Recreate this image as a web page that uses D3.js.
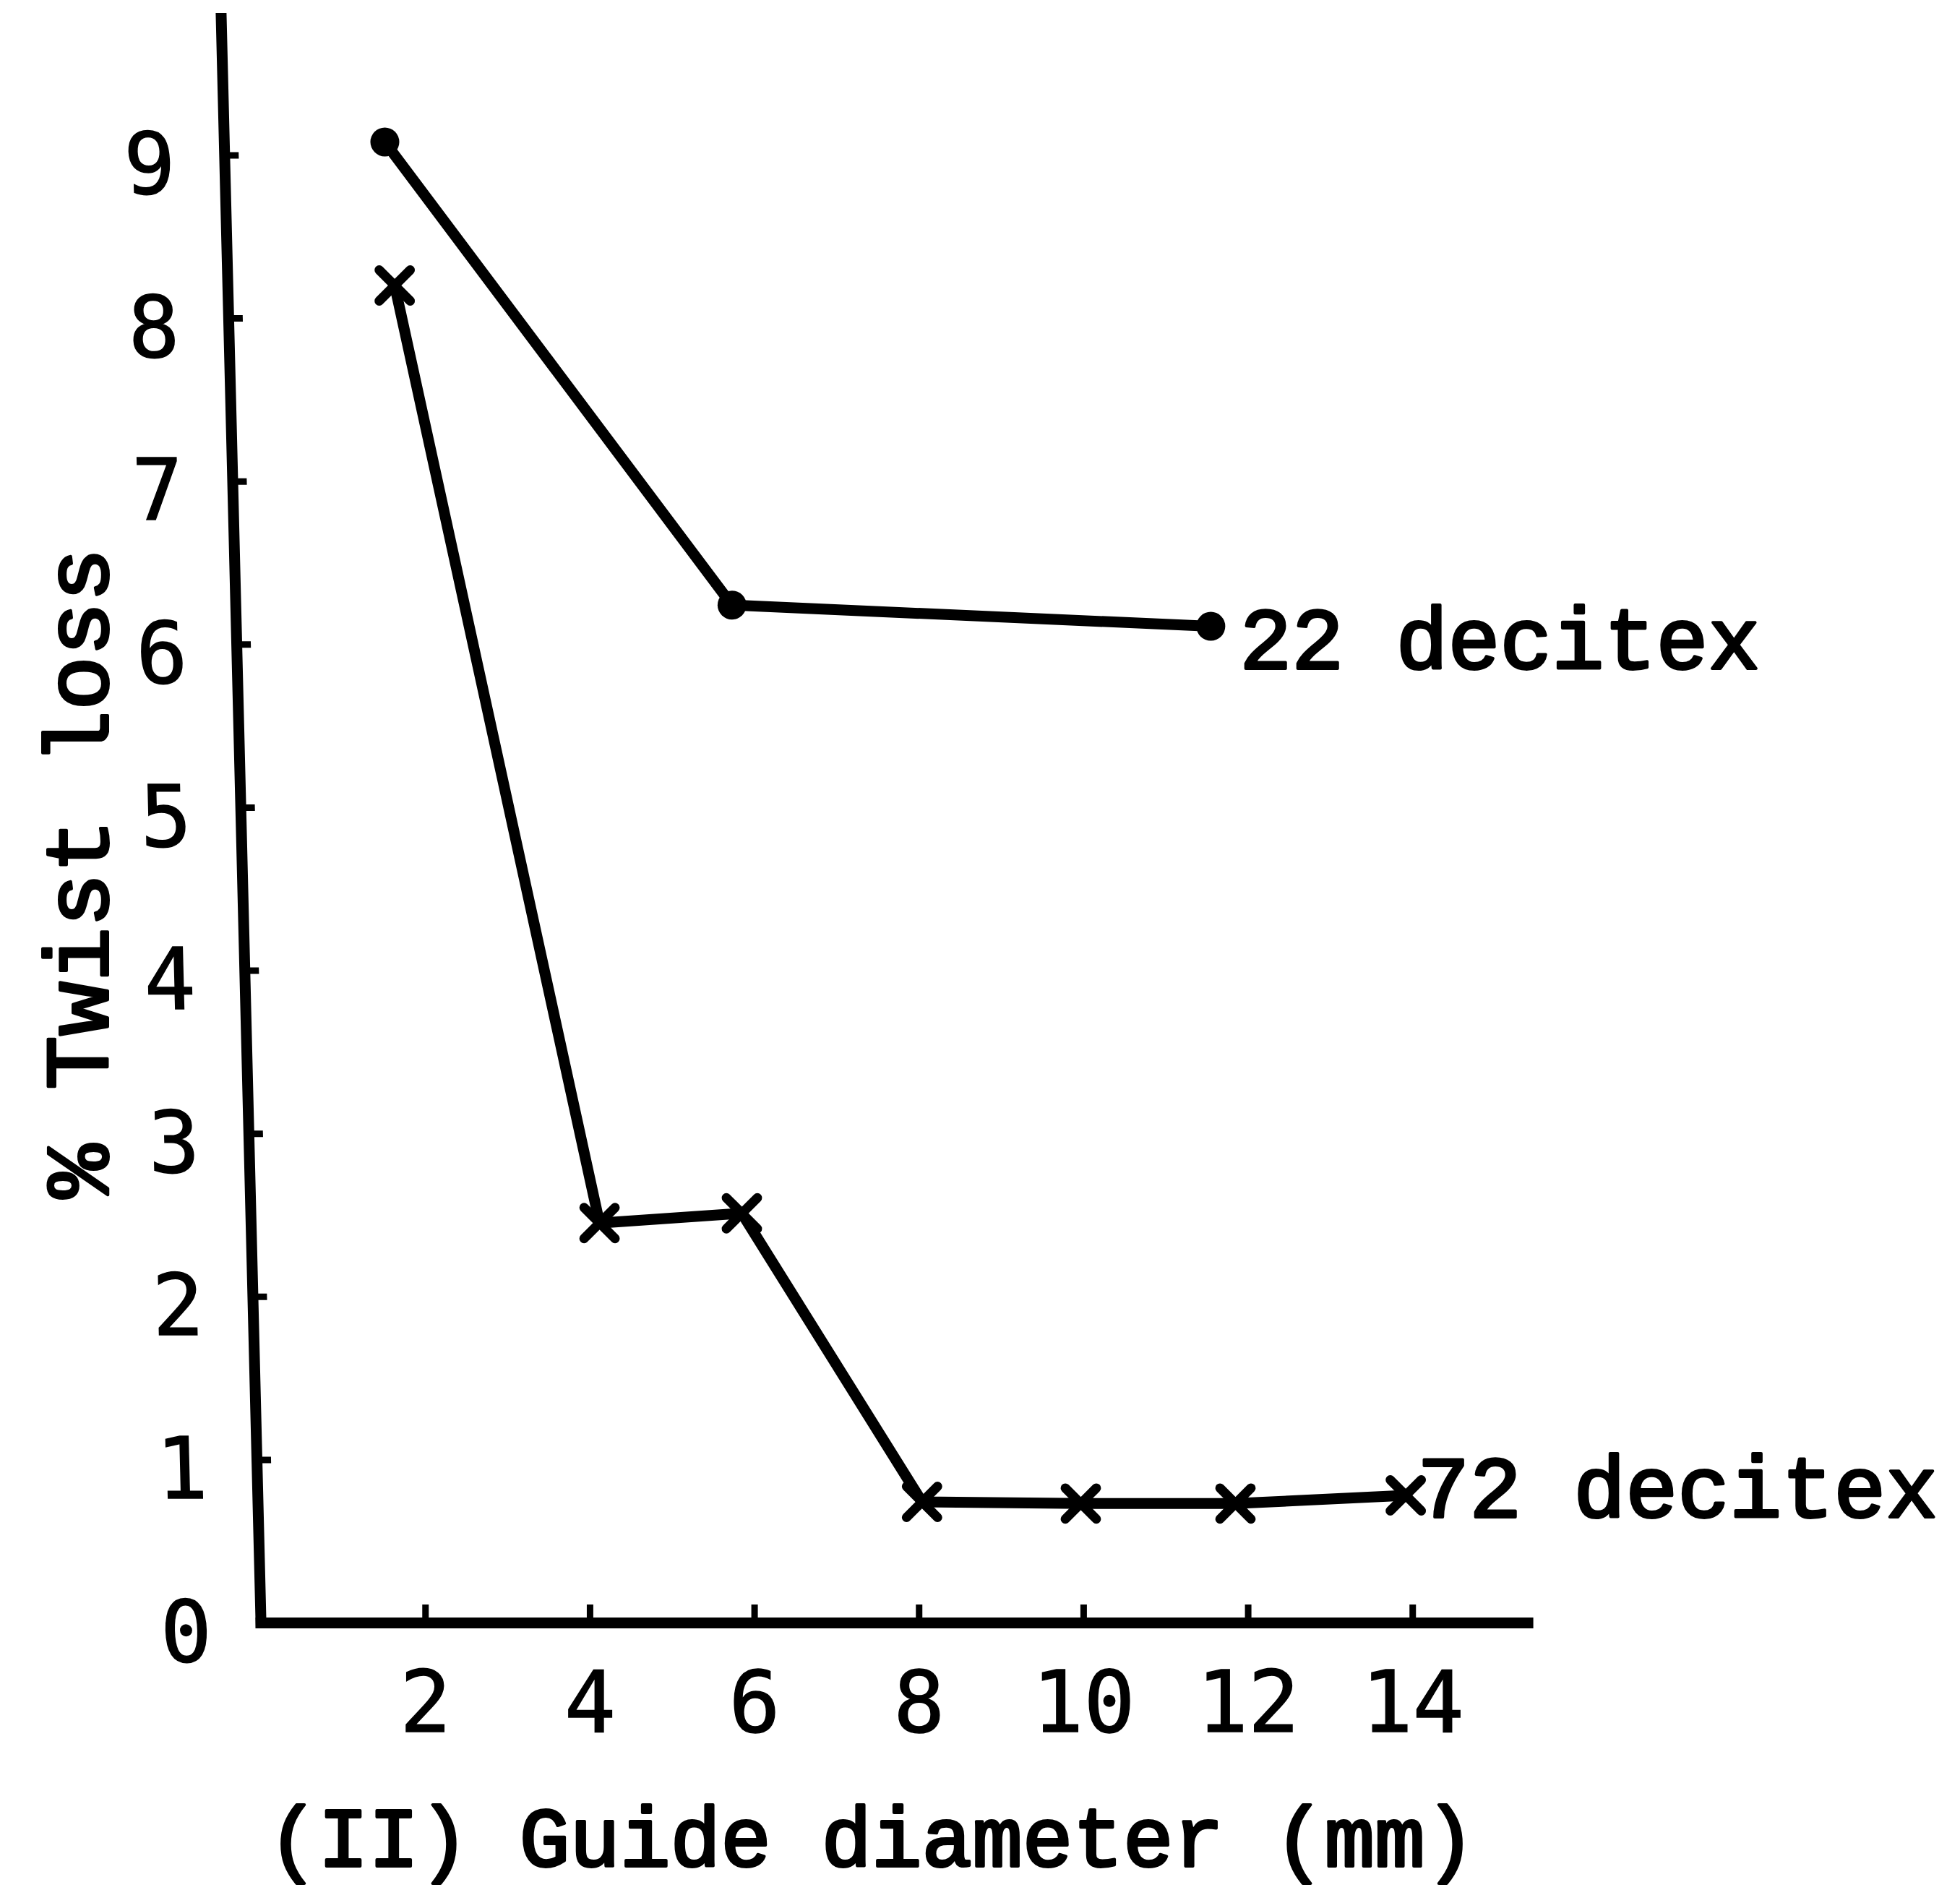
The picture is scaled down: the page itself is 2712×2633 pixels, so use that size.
<!DOCTYPE html>
<html>
<head>
<meta charset="utf-8">
<script src="https://cdn.jsdelivr.net/npm/d3@7"></script>
<style>
  html, body { margin: 0; padding: 0; background: #ffffff; }
  svg { display: block; }
</style>
</head>
<body>
<script>
// ---- Data ----
const xTickValues = [2, 4, 6, 8, 10, 12, 14];
const yTickValues = [0, 1, 2, 3, 4, 5, 6, 7, 8, 9];

const diam22 = [1.51, 5.73, 11.55];
const loss22 = [9.08, 6.24, 6.11];

const diam72 = [1.63, 4.12, 5.85, 8.04, 9.97, 11.85, 13.92];
const loss72 = [8.20, 2.45, 2.51, 0.74, 0.73, 0.73, 0.78];

const seriesNames = ["22 decitex", "72 decitex"];
const xTitle = "(II) Guide diameter (mm)";
const yTitle = "% Twist loss";

// ---- Layout ----
const W = 2712, H = 2633;
const serif = "'Liberation Mono', 'Courier New', monospace";
const tickFont = "'DejaVu Sans Mono', 'Liberation Mono', monospace";

const svg = d3.select("body").append("svg")
  .attr("width", W).attr("height", H)
  .attr("viewBox", `0 0 ${W} ${H}`);
svg.append("rect").attr("width", W).attr("height", H).attr("fill", "#ffffff");

const x = d3.scaleLinear().domain([0, 15.4]).range([360.6, 2113.6]);
const y = d3.scaleLinear().domain([0, 9.84]).range([2245, 25]);

// ---- X axis ----
const xAxis = d3.axisBottom(x)
  .tickValues(xTickValues)
  .tickFormat(d3.format("d"))
  .tickSizeInner(-25)
  .tickSizeOuter(0)
  .tickPadding(67);
const gx = svg.append("g")
  .attr("transform", `translate(0,${y(0)})`)
  .call(xAxis);
gx.select(".domain").attr("stroke", "#000").attr("stroke-width", 15).attr("stroke-linecap", "square");
gx.selectAll(".tick line").attr("stroke", "#000").attr("stroke-width", 9);
gx.selectAll(".tick text")
  .attr("fill", "#000")
  .attr("stroke", "#000").attr("stroke-width", 1.5)
  .style("font-family", tickFont)
  .style("font-size", "118px");

// ---- Y axis (slightly slanted, as hand drawn) ----
const slant = 55 / 2220;              // horizontal drift per vertical pixel
const skewDeg = Math.atan(slant) * 180 / Math.PI;
const shift = x(0) - y(0) * slant;
const yAxis = d3.axisLeft(y)
  .tickValues(yTickValues)
  .tickFormat(d3.format("d"))
  .tickSizeInner(-20)
  .tickSizeOuter(0)
  .tickPadding(68);
const gy = svg.append("g")
  .attr("transform", `translate(${shift},0) skewX(${skewDeg})`)
  .call(yAxis);
gy.select(".domain").attr("stroke", "#000").attr("stroke-width", 15).attr("stroke-linecap", "square");
gy.selectAll(".tick line").attr("stroke", "#000").attr("stroke-width", 9);
gy.selectAll(".tick text")
  .attr("fill", "#000")
  .attr("stroke", "#000").attr("stroke-width", 1.5)
  .attr("dy", "0.45em")
  .style("font-family", tickFont)
  .style("font-size", "118px");

// ---- Series ----
const s22 = diam22.map((g, i) => ({ g, t: loss22[i] }));
const s72 = diam72.map((g, i) => ({ g, t: loss72[i] }));

const line = d3.line().x(d => x(d.g)).y(d => y(d.t));

svg.append("path").datum(s22)
  .attr("d", line)
  .attr("fill", "none").attr("stroke", "#000")
  .attr("stroke-width", 15).attr("stroke-linejoin", "round").attr("stroke-linecap", "round");

svg.append("path").datum(s72)
  .attr("d", line)
  .attr("fill", "none").attr("stroke", "#000")
  .attr("stroke-width", 15).attr("stroke-linejoin", "round").attr("stroke-linecap", "round");

svg.selectAll("circle.dot").data(s22).join("circle")
  .attr("class", "dot")
  .attr("cx", d => x(d.g)).attr("cy", d => y(d.t))
  .attr("r", 20).attr("fill", "#000");

const xSym = d3.symbol().type(d3.symbolX).size(1200);
svg.selectAll("path.xmark").data(s72).join("path")
  .attr("class", "xmark")
  .attr("transform", d => `translate(${x(d.g)},${y(d.t)})`)
  .attr("d", xSym)
  .attr("fill", "none").attr("stroke", "#000")
  .attr("stroke-width", 13).attr("stroke-linecap", "round");

// ---- Series labels ----
const last22 = s22[s22.length - 1];
const last72 = s72[s72.length - 1];
function typed(sel, size) {
  return sel.style("font-family", serif).style("font-size", size + "px")
    .attr("fill", "#000").attr("stroke", "#000").attr("stroke-width", 4)
    .attr("stroke-linejoin", "round");
}
typed(svg.append("text")
  .attr("x", x(last22.g) + 40).attr("y", y(last22.t) + 58), 120)
  .text(seriesNames[0]);
typed(svg.append("text")
  .attr("x", x(last72.g) + 16).attr("y", y(last72.t) + 30), 120)
  .text(seriesNames[1]);

// ---- Axis titles ----
typed(svg.append("text")
  .attr("x", 1206).attr("y", 2582)
  .attr("text-anchor", "middle"), 116)
  .text(xTitle);

typed(svg.append("text")
  .attr("transform", "translate(149,1208) rotate(-90)")
  .attr("text-anchor", "middle"), 125)
  .text(yTitle);
</script>
</body>
</html>
